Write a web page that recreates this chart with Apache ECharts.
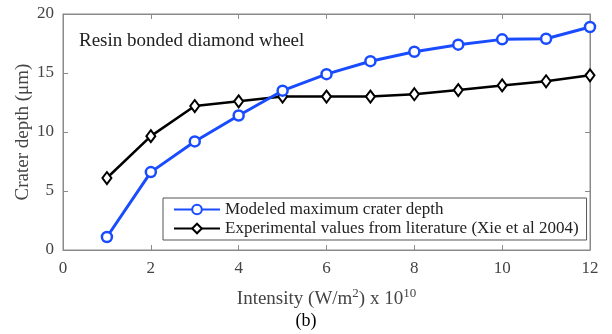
<!DOCTYPE html>
<html>
<head>
<meta charset="utf-8">
<script src="https://cdn.jsdelivr.net/npm/echarts@6/dist/echarts.min.js"></script>
<style>
  html, body { margin: 0; padding: 0; background: #fff; }
  #chart { width: 612px; height: 334px; }
</style>
</head>
<body>
<div id="chart"></div>
<script>
const intensity = [1, 2, 3, 4, 5, 6, 7, 8, 9, 10, 11, 12]
const modeledDepth = [1.1, 6.6, 9.2, 11.4, 13.5, 14.9, 16.0, 16.8, 17.4, 17.85, 17.9, 18.9]
const experimentalDepth = [6.1, 9.65, 12.2, 12.6, 13.0, 13.0, 13.0, 13.2, 13.55, 13.95, 14.3, 14.8]

const serif = "Liberation Serif"
const axisGray = "#8a8a8a"
const labelGray = "#444"

const pairs = (xs, ys) => xs.map((x, i) => [x, ys[i]])

const chart = echarts.init(document.getElementById("chart"))

// same look for all four sides of the box
const boxAxis = {
    show: true,
    axisLine: { show: true, onZero: false, lineStyle: { color: axisGray, width: 1 } },
    axisTick: { show: true, inside: true, length: 5, lineStyle: { color: axisGray } },
    splitLine: { show: false }
}

chart.setOption({
    animation: false,
    grid: { left: 63, right: 22, top: 14, bottom: 84, show: true, borderColor: axisGray, borderWidth: 1 },
    legend: {
        orient: "vertical",
        left: 163, top: 198,
        width: 422,
        itemWidth: 46, itemHeight: 12, itemGap: 2,
        padding: [3, 8, 3, 10],
        borderColor: "#555", borderWidth: 1,
        backgroundColor: "#fff",
        textStyle: { fontFamily: serif, fontSize: 17, color: "#222" },
        data: ["Modeled maximum crater depth", "Experimental values from literature (Xie et al 2004)"]
    },
    xAxis: [
        {
            type: "value", min: 0, max: 12, interval: 2,
            ...boxAxis,
            axisLabel: { fontFamily: serif, fontSize: 17, color: labelGray, margin: 10 },
            name: "{n|Intensity (W/m}{s|2}{n|) x 10}{s|10}",
            nameLocation: "middle", nameGap: 37,
            nameTextStyle: {
                rich: {
                    n: { fontFamily: serif, fontSize: 19, color: labelGray, verticalAlign: "bottom", lineHeight: 22 },
                    s: { fontFamily: serif, fontSize: 13, color: labelGray, verticalAlign: "top", lineHeight: 22 }
                }
            }
        },
        {
            type: "value", min: 0, max: 12, interval: 2, position: "top",
            ...boxAxis, axisLabel: { show: false }
        }
    ],
    yAxis: [
        {
            type: "value", min: 0, max: 20, interval: 5,
            ...boxAxis,
            axisLabel: { fontFamily: serif, fontSize: 17, color: labelGray, margin: 9 },
            name: "Crater depth (μm)",
            nameLocation: "middle", nameGap: 30,
            nameMoveOverlap: false,
            nameTextStyle: { fontFamily: serif, fontSize: 19, color: labelGray }
        },
        {
            type: "value", min: 0, max: 20, interval: 5, position: "right",
            ...boxAxis, axisLabel: { show: false }
        }
    ],
    graphic: [
        {
            type: "text", left: 79, top: 32,
            style: { text: "Resin bonded diamond wheel", font: "19px " + serif, fill: "#222" }
        },
        {
            type: "text", left: "center", top: 312,
            style: { text: "(b)", font: "18px " + serif, fill: "#000" }
        }
    ],
    series: [
        {
            name: "Modeled maximum crater depth",
            type: "line",
            data: pairs(intensity, modeledDepth),
            symbol: "circle", symbolSize: 10,
            lineStyle: { color: "#1a4cff", width: 3 },
            itemStyle: { color: "#fff", borderColor: "#1a4cff", borderWidth: 2.5 },
            z: 3
        },
        {
            name: "Experimental values from literature (Xie et al 2004)",
            type: "line",
            data: pairs(intensity, experimentalDepth),
            symbol: "diamond", symbolSize: [9, 12],
            lineStyle: { color: "#000", width: 2.5 },
            itemStyle: { color: "#fff", borderColor: "#000", borderWidth: 2 },
            z: 2
        },
        {
            // ties the top and right axes to the grid so their ticks are drawn
            type: "line", xAxisIndex: 1, yAxisIndex: 1,
            data: [], silent: true
        }
    ]
})
</script>
</body>
</html>
